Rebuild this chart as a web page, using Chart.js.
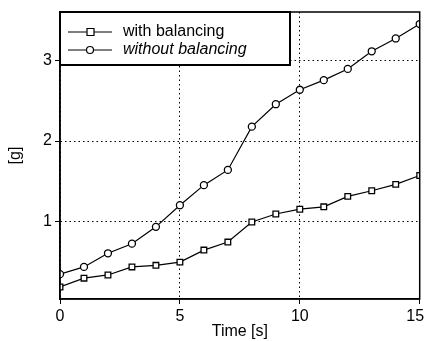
<!DOCTYPE html>
<html>
<head>
<meta charset="utf-8">
<script src="https://cdn.jsdelivr.net/npm/chart.js@4/dist/chart.umd.min.js"></script>
<style>
  html, body { margin: 0; padding: 0; background: #fff; }
  #wrap { width: 425px; height: 341px; }
</style>
</head>
<body>
<div id="wrap"><canvas id="chart"></canvas></div>
<script>
const times = [0, 1, 2, 3, 4, 5, 6, 7, 8, 9, 10, 11, 12, 13, 14, 15];
const withBalancing = [0.18, 0.29, 0.33, 0.43, 0.45, 0.49, 0.64, 0.74, 0.99, 1.09, 1.15, 1.18, 1.31, 1.38, 1.46, 1.57];
const withoutBalancing = [0.34, 0.43, 0.60, 0.72, 0.93, 1.20, 1.45, 1.64, 2.18, 2.46, 2.64, 2.76, 2.90, 3.12, 3.28, 3.46];
const seriesNames = ["with balancing", "without balancing"];
const yTicks = [1, 2, 3];

const FONT = "'Liberation Sans', Arial, sans-serif";

// frame on top/right + legend box
const framePlugin = {
  id: "frame",
  afterDraw(chart) {
    const { ctx, chartArea: a } = chart;
    ctx.save();
    ctx.strokeStyle = "#000";
    ctx.lineWidth = 1.5;
    ctx.strokeRect(a.left, a.top, a.right - a.left, a.bottom - a.top);

    // legend
    const lx = a.left, ly = a.top, lw = 230, lh = 53;
    ctx.fillStyle = "#fff";
    ctx.fillRect(lx, ly, lw, lh);
    ctx.lineWidth = 2;
    ctx.strokeRect(lx, ly, lw, lh);
    const rows = [ly + 20, ly + 38];
    chart.data.datasets.forEach((ds, i) => {
      const y = rows[i];
      ctx.lineWidth = 1.2;
      ctx.beginPath();
      ctx.moveTo(lx + 8, y);
      ctx.lineTo(lx + 52, y);
      ctx.stroke();
      ctx.fillStyle = "#fff";
      ctx.beginPath();
      if (ds.pointStyle === "rect") {
        ctx.rect(lx + 27, y - 3.5, 7, 7);
      } else {
        ctx.arc(lx + 30, y, 3.5, 0, Math.PI * 2);
      }
      ctx.fill();
      ctx.stroke();
      ctx.fillStyle = "#000";
      ctx.font = (i === 1 ? "italic " : "") + "16px " + FONT;
      ctx.textBaseline = "middle";
      ctx.fillText(ds.label, lx + 63, y);
    });
    ctx.restore();
  }
};

new Chart(document.getElementById("chart"), {
  type: "line",
  data: {
    datasets: [
      {
        label: seriesNames[0],
        data: times.map((t, i) => ({ x: t, y: withBalancing[i] })),
        borderColor: "#000",
        borderWidth: 1.2,
        pointStyle: "rect",
        pointRadius: 4,
        pointBackgroundColor: "#fff",
        pointBorderColor: "#000",
        pointBorderWidth: 1.3,
        tension: 0
      },
      {
        label: seriesNames[1],
        data: times.map((t, i) => ({ x: t, y: withoutBalancing[i] })),
        borderColor: "#000",
        borderWidth: 1.2,
        pointStyle: "circle",
        pointRadius: 3.5,
        pointBackgroundColor: "#fff",
        pointBorderColor: "#000",
        pointBorderWidth: 1.3,
        tension: 0
      }
    ]
  },
  options: {
    responsive: true,
    maintainAspectRatio: false,
    animation: false,
    layout: { padding: { top: 12, right: 3, left: 0, bottom: 0 } },
    plugins: { legend: { display: false }, tooltip: { enabled: false } },
    scales: {
      x: {
        type: "linear",
        min: 0,
        max: 15,
        ticks: {
          stepSize: 5, color: "#000", font: { family: FONT, size: 16 }, padding: 3,
          // last label sits a little left of its tick so it stays on the page
          callback: v => v === 15 ? "15\u2007" : String(v)
        },
        grid: { color: "#000", lineWidth: 1, tickLength: 5, tickColor: "#000" },
        border: { color: "#000", width: 1.5, dash: [1.5, 3] },
        title: { display: true, text: "Time [s]", color: "#000", font: { family: FONT, size: 16 }, padding: { top: 0, bottom: 0 } },
        afterFit(scale) {
          scale.height = 42;
          scale.paddingLeft = 0;
          scale.paddingRight = 0;
        }
      },
      y: {
        min: 0.03,
        max: 3.61,
        afterBuildTicks(scale) { scale.ticks = yTicks.map(v => ({ value: v })); },
        ticks: { color: "#000", font: { family: FONT, size: 16 }, padding: 3 },
        grid: { color: "#000", lineWidth: 1, tickLength: 5, tickColor: "#000" },
        border: { color: "#000", width: 1.5, dash: [1.5, 3] },
        title: { display: true, text: "[g]", color: "#000", font: { family: FONT, size: 16 }, padding: { top: 6, bottom: 0 } },
        afterFit(scale) {
          scale.width = 60;
          scale.paddingTop = 0;
          scale.paddingBottom = 0;
        }
      }
    }
  },
  plugins: [framePlugin]
});
</script>
</body>
</html>
